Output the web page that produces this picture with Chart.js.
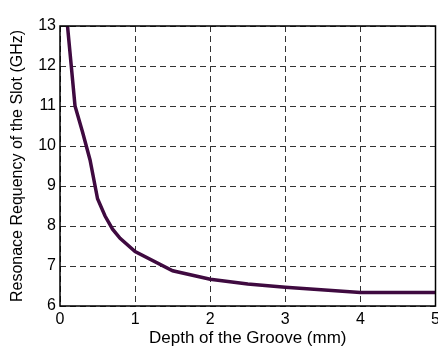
<!DOCTYPE html>
<html>
<head>
<meta charset="utf-8">
<script src="https://cdn.jsdelivr.net/npm/chart.js@4"></script>
<style>
  html, body { margin: 0; padding: 0; background: #fff; overflow: hidden; }
  #wrap { width: 438px; height: 349px; }
</style>
</head>
<body>
<div id="wrap"><canvas id="lineGraph" width="438" height="349"></canvas></div>
<script>
// depth of the groove (mm) vs resonance of the slot (GHz)
let depthValues = [0.1, 0.2, 0.3, 0.4, 0.5, 0.6, 0.7, 0.8, 1, 1.5, 2, 2.5, 3, 4, 5];
let freqValues = [13, 11, 10.35, 9.65, 8.68, 8.25, 7.92, 7.69, 7.36, 6.88, 6.67, 6.55, 6.47, 6.34, 6.34];
let xTicks = [0, 1, 2, 3, 4, 5];
let yTicks = [6, 7, 8, 9, 10, 11, 12, 13];

const lineCtx = document.getElementById('lineGraph').getContext('2d');
const fontFamily = '"Liberation Sans", Arial, sans-serif';

//draws the black box round the plot area
const boxPlugin = {
    id: 'box',
    afterDraw(chart) {
        const a = chart.chartArea;
        const ctx = chart.ctx;
        ctx.save();
        ctx.strokeStyle = '#000';
        ctx.lineWidth = 1.5;
        ctx.strokeRect(a.left, a.top, a.right - a.left, a.bottom - a.top);
        ctx.restore();
    }
};

let points = depthValues.map((x, i) => ({x: x, y: freqValues[i]}));

new Chart(lineCtx, {
    type: 'line',
    data: {
        datasets: [{
            data: points,
            borderColor: '#3f0a40',
            borderWidth: 3.5,
            pointRadius: 0,
            fill: false,
            tension: 0
        }]
    },
    options: {
        responsive: false,
        animation: false,
        layout: {padding: {top: 26, right: 2.5, left: 0, bottom: 0}},
        plugins: {legend: {display: false}, tooltip: {enabled: false}},
        scales: {
            x: {
                type: 'linear',
                min: 0,
                max: 5,
                afterBuildTicks: scale => { scale.ticks = xTicks.map(v => ({value: v})); },
                afterFit: scale => { scale.height = 43; scale.paddingLeft = 0; scale.paddingRight = 0; },
                grid: {color: '#333', lineWidth: 1, drawTicks: false},
                border: {display: false, dash: [6, 4]},
                ticks: {color: '#000', padding: 4, font: {family: fontFamily, size: 16}, maxRotation: 0},
                title: {display: true, text: 'Depth of the Groove (mm)', color: '#000',
                    font: {family: fontFamily, size: 17}, padding: {top: 0, bottom: 0}}
            },
            y: {
                min: 6,
                max: 13,
                afterBuildTicks: scale => { scale.ticks = yTicks.map(v => ({value: v})); },
                afterFit: scale => { scale.width = 60; scale.paddingTop = 0; scale.paddingBottom = 0; },
                grid: {color: '#333', lineWidth: 1, drawTicks: false},
                border: {display: false, dash: [6, 4]},
                ticks: {color: '#000', padding: 4, font: {family: fontFamily, size: 16}},
                title: {display: true, text: 'Resonace Requency of the Slot (GHz)', color: '#000',
                    font: {family: fontFamily, size: 16}, padding: {top: 8, bottom: 0}}
            }
        }
    },
    plugins: [boxPlugin]
});
</script>
</body>
</html>
